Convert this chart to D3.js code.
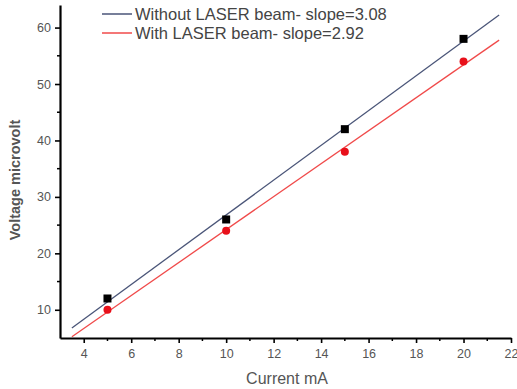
<!DOCTYPE html>
<html>
<head>
<meta charset="utf-8">
<script src="https://cdn.jsdelivr.net/npm/d3@7"></script>
<style>
  body { margin: 0; background: #fff; }
  text { font-family: "Liberation Sans", Arial, sans-serif; }
</style>
</head>
<body>
<div id="viz"></div>
<script>
// measured points
var current = [5, 10, 15, 20];
var withoutLaser = [12, 26, 42, 58];
var withLaser = [10, 24, 38, 54];
var seriesNames = ['Without LASER beam', 'With LASER beam'];
var xTicks = [4, 6, 8, 10, 12, 14, 16, 18, 20, 22];
var yTicks = [10, 20, 30, 40, 50, 60];
var fitRange = [3.5, 21.5];

var width = 517,
    height = 389;

var x = d3.scaleLinear().domain([3, 22]).range([60, 511]);
var y = d3.scaleLinear().domain([5, 64]).range([338, 5]);

// least squares fit
function fit(xs, ys) {
    var mx = d3.mean(xs), my = d3.mean(ys);
    var num = d3.sum(xs, function(d, i) { return (d - mx) * (ys[i] - my); });
    var den = d3.sum(xs, function(d) { return (d - mx) * (d - mx); });
    var slope = num / den;
    return { slope: slope, icpt: my - slope * mx };
}

var series = [
    { name: seriesNames[0], values: withoutLaser, color: '#4a5578', fill: '#000' },
    { name: seriesNames[1], values: withLaser, color: '#f04a4a', fill: '#e8101a' }
];
series.forEach(function(s) { s.fit = fit(current, s.values); });

var svg = d3.select('#viz').append('svg')
    .attr('width', width)
    .attr('height', height)
    .style('background', '#fff');

// fit lines
var line = d3.line()
    .x(function(d) { return x(d[0]); })
    .y(function(d) { return y(d[1]); });

series.forEach(function(s) {
    svg.append('path')
        .datum(fitRange.map(function(v) { return [v, s.fit.icpt + s.fit.slope * v]; }))
        .attr('d', line)
        .attr('fill', 'none')
        .attr('stroke', s.color)
        .attr('stroke-width', 1.3);
});

// markers
var sq = 8;
svg.selectAll('rect.pt').data(current)
    .enter().append('rect')
    .attr('class', 'pt')
    .attr('x', function(d) { return x(d) - sq / 2; })
    .attr('y', function(d, i) { return y(withoutLaser[i]) - sq / 2; })
    .attr('width', sq)
    .attr('height', sq)
    .attr('fill', series[0].fill);

svg.selectAll('circle.pt').data(current)
    .enter().append('circle')
    .attr('class', 'pt')
    .attr('cx', function(d) { return x(d); })
    .attr('cy', function(d, i) { return y(withLaser[i]); })
    .attr('r', 4)
    .attr('fill', series[1].fill);

// axes
var xAxis = svg.append('g')
    .attr('transform', 'translate(0,' + y(5) + ')')
    .call(d3.axisBottom(x).tickValues(xTicks).tickSize(5).tickPadding(6).tickSizeOuter(0));
xAxis.append('g').selectAll('line').data(d3.range(5, 22, 2))
    .enter().append('line')
    .attr('x1', function(d) { return x(d); })
    .attr('x2', function(d) { return x(d); })
    .attr('y2', 3)
    .attr('stroke', '#000')
    .attr('stroke-width', 1.5);

var yAxis = svg.append('g')
    .attr('transform', 'translate(' + x(3) + ',0)')
    .call(d3.axisLeft(y).tickValues(yTicks).tickSize(5).tickPadding(4).tickSizeOuter(0));
yAxis.append('g').selectAll('line').data(d3.range(15, 64, 10))
    .enter().append('line')
    .attr('y1', function(d) { return y(d); })
    .attr('y2', function(d) { return y(d); })
    .attr('x2', -3)
    .attr('stroke', '#000')
    .attr('stroke-width', 1.5);

[xAxis, yAxis].forEach(function(g) {
    g.select('.domain').attr('stroke', '#000').attr('stroke-width', 2.2);
    g.selectAll('.tick line').attr('stroke', '#000').attr('stroke-width', 1.6);
    g.selectAll('.tick text').attr('fill', '#555').style('font-size', '12.5px')
        .style('font-family', '"Liberation Sans", Arial, sans-serif');
});

// axis titles
svg.append('text')
    .attr('x', 287)
    .attr('y', 384)
    .attr('text-anchor', 'middle')
    .attr('fill', '#555')
    .style('font-size', '16px')
    .text('Current mA');

svg.append('text')
    .attr('transform', 'translate(20,180) rotate(-90)')
    .attr('text-anchor', 'middle')
    .attr('fill', '#555')
    .style('font-size', '14.5px')
    .style('font-weight', 'bold')
    .text('Voltage microvolt');

// legend
var legend = svg.append('g').attr('transform', 'translate(102,14)');
series.forEach(function(s, i) {
    var row = legend.append('g').attr('transform', 'translate(0,' + (i * 19) + ')');
    row.append('line')
        .attr('x1', 0).attr('x2', 30)
        .attr('stroke', s.color)
        .attr('stroke-width', 1.5);
    row.append('text')
        .attr('x', 33)
        .attr('dy', '0.35em')
        .attr('fill', '#444')
        .style('font-size', '16.5px')
        .text(s.name + '- slope=' + s.fit.slope.toFixed(2));
});
</script>
</body>
</html>
